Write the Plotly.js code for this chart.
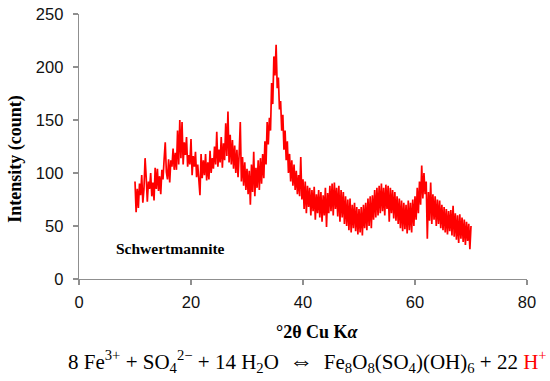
<!DOCTYPE html>
<html>
<head>
<meta charset="utf-8">
<script src="https://cdn.plot.ly/plotly-3.0.1.min.js"></script>
<style>html,body{margin:0;padding:0;background:#fff;}#chart{width:550px;height:381px;}</style>
</head>
<body>
<div id="chart"></div>
<script>
// XRD pattern, 2-theta from 10 to 70 degrees, step 0.2
var twoThetaStart = 10;
var twoThetaStep = 0.2;
var intensity = [
  92, 63, 85, 67, 90,   79, 98, 72, 85, 114,
  96, 73, 92, 85, 100,  78, 91, 74, 105, 85,
  104, 83, 97, 80, 103, 94, 113, 129, 101, 94,
  113, 91, 112, 106, 123, 103, 119, 103, 140, 108,
  150, 114, 148, 108, 129, 117, 134, 106, 117, 108,
  132, 98, 116, 106, 120, 96, 108, 89, 79, 118,
  95, 112, 98, 118, 93,  110, 94, 121, 100, 114,
  104, 125, 108, 139, 106, 122, 110, 134, 105, 128,
  112, 147, 116, 158, 110, 136, 108, 131, 104, 126,
  100, 122, 96, 118, 148, 92, 115, 88, 110, 84,
  104, 80, 102, 70, 108,  82, 120, 78, 105, 86,
  112, 84, 114, 90, 118,  95, 130, 108, 148, 127,
  152, 140, 185, 165, 210, 192, 221, 180, 190, 160,
  168, 140, 155, 122, 140, 112, 130, 100, 118, 92,
  112, 88, 108, 84, 102,  80, 98, 78, 115, 75,
  94, 66, 92, 62, 88,     68, 86, 60, 84, 64,
  87, 56, 80, 62, 84,     58, 82, 54, 79, 60,
  86, 49, 81, 62, 88,     64, 90, 60, 91, 66,
  86, 59, 88, 54, 84,     58, 82, 52, 78, 50,
  75, 46, 76, 44, 70,     48, 72, 45, 68, 42,
  66, 44, 68, 41, 70,     48, 72, 46, 76, 50,
  78, 48, 79, 56, 84,     58, 86, 60, 88, 62,
  90, 64, 86, 60, 89,     66, 88, 54, 86, 62,
  84, 57, 82, 55, 78,     52, 76, 48, 74, 45,
  72, 47, 70, 43, 74,     46, 72, 44, 75, 50,
  78, 56, 86, 62, 92,     70, 107, 76, 100, 80,
  92, 38, 82, 55, 91,     52, 80, 56, 78, 50,
  75, 52, 74, 48, 70,     46, 68, 44, 66, 42,
  64, 45, 65, 41, 69,     40, 62, 37, 60, 34,
  61, 38, 58, 35, 56,     32, 54, 36, 52, 28,
  50
];
var xTickVals = [0, 20, 40, 60, 80];
var yTickVals = [0, 50, 100, 150, 200, 250];
var sampleLabel = 'Schwertmannite';
var xTitle = '°2θ Cu K<i>α</i>';
var yTitle = 'Intensity (count)';
var equation = '8 Fe<sup>3+</sup> + SO<sub>4</sub><sup>2−</sup> + 14 H<sub>2</sub>O  <span style="font-size:24px">⇔</span>  Fe<sub>8</sub>O<sub>8</sub>(SO<sub>4</sub>)(OH)<sub>6</sub> + 22 <span style="color:#ff0000">H<sup>+</sup></span>';

var serif = '"Liberation Serif", "DejaVu Serif", serif';
var sans = 'Arial, "Liberation Sans", sans-serif';

var trace = {
  type: 'scatter', mode: 'lines',
  y: intensity, x0: twoThetaStart, dx: twoThetaStep,
  line: {color: '#ff0000', width: 1.7},
  hoverinfo: 'skip'
};

var axisCommon = {
  showgrid: false, zeroline: false, showline: true,
  linecolor: '#8f8f8f', linewidth: 1.3,
  ticks: 'outside', ticklen: 5, tickwidth: 1.3, tickcolor: '#8f8f8f',
  tickfont: {family: sans, size: 16.5, color: '#111'}
};

var layout = {
  width: 550, height: 381,
  margin: {l: 79, r: 23, t: 14, b: 102},
  paper_bgcolor: '#fff', plot_bgcolor: '#fff',
  showlegend: false,
  xaxis: Object.assign({}, axisCommon, {range: [0, 80], tickvals: xTickVals, ticktext: xTickVals.map(String), ticklabelstandoff: 3}),
  yaxis: Object.assign({}, axisCommon, {range: [0, 250], tickvals: yTickVals, ticktext: yTickVals.map(String), ticklabelstandoff: 6}),
  annotations: [
    {text: '<b>' + sampleLabel + '</b>', xref: 'x', yref: 'y', x: 16.3, y: 29.2, showarrow: false,
     xanchor: 'center', yanchor: 'middle',
     font: {family: serif, size: 15.5, color: '#000'}},
    {text: '<b>' + xTitle + '</b>', xref: 'paper', yref: 'paper', x: 0.532, y: -0.2, showarrow: false,
     xanchor: 'center', yanchor: 'middle',
     font: {family: serif, size: 18, color: '#000'}},
    {text: '<b>' + yTitle + '</b>', xref: 'paper', yref: 'paper', x: -0.141, y: 0.453, showarrow: false, textangle: -90,
     xanchor: 'center', yanchor: 'middle',
     font: {family: serif, size: 18, color: '#000'}},
    {text: equation, xref: 'paper', yref: 'paper', x: 0.511, y: -0.31, showarrow: false,
     xanchor: 'center', yanchor: 'middle',
     font: {family: serif, size: 21, color: '#000'}}
  ]
};

Plotly.newPlot('chart', [trace], layout, {displayModeBar: false, staticPlot: true});
</script>
</body>
</html>
